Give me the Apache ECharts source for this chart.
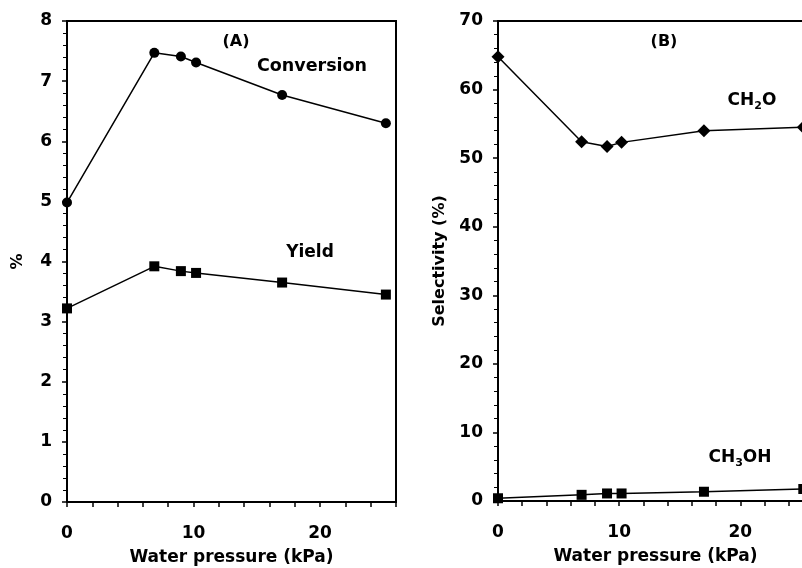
<!DOCTYPE html>
<html><head><meta charset="utf-8">
<script src="https://cdn.jsdelivr.net/npm/echarts@6/dist/echarts.min.js"></script>
<style>html,body{margin:0;padding:0;background:#fff}#c{width:802px;height:568px}</style>
</head><body><div id="c"></div>
<script>
const pressure = [0, 6.9, 9, 10.2, 17, 25.2];
const conversion = [4.98, 7.47, 7.41, 7.31, 6.77, 6.30];
const yieldVals = [3.22, 3.92, 3.84, 3.81, 3.65, 3.45];
const selCH2O = [64.8, 52.4, 51.7, 52.3, 54.0, 54.5];
const selCH3OH = [0.4, 0.9, 1.1, 1.1, 1.35, 1.75];
const xTicksLabeled = [0, 10, 20];

const FONT = '"DejaVu Sans", Verdana, sans-serif';
const pair = (xs, ys) => xs.map((x, i) => [x, ys[i]]);

const chart = echarts.init(document.getElementById('c'), null, {renderer: 'canvas'});

function xAxis(gi) {
  return {
    type: 'value', gridIndex: gi, min: 0, max: 26, interval: 2,
    name: 'Water pressure (kPa)', nameLocation: 'middle', nameGap: 47,
    nameTextStyle: {fontFamily: FONT, fontWeight: 'bold', fontSize: 17, color: '#000'},
    axisLine: {show: true, onZero: false, lineStyle: {color: '#000', width: 2}},
    axisTick: {show: true, inside: false, length: 5, lineStyle: {color: '#000', width: 1.5}},
    axisLabel: {margin: 23, fontFamily: FONT, fontWeight: 'bold', fontSize: 17, color: '#000',
      formatter: v => xTicksLabeled.includes(v) ? String(v) : ''},
    splitLine: {show: false}
  };
}
function yAxis(gi, max, interval, name, gap) {
  return {
    type: 'value', gridIndex: gi, min: 0, max: max, interval: interval,
    name: name, nameLocation: 'middle', nameGap: gap,
    nameTextStyle: {fontFamily: FONT, fontWeight: 'bold', fontSize: 16, color: '#000'},
    axisLine: {show: true, lineStyle: {color: '#000', width: 2}},
    axisTick: {show: true, inside: false, length: 5, lineStyle: {color: '#000', width: 1.5}},
    minorTick: {show: true, splitNumber: 5, length: 4, lineStyle: {color: '#000', width: 1}},
    axisLabel: {margin: 15, fontFamily: FONT, fontWeight: 'bold', fontSize: 17, color: '#000'},
    splitLine: {show: false}, minorSplitLine: {show: false}
  };
}
function line(name, xi, yi, data, symbol, size) {
  return {
    name: name, type: 'line', xAxisIndex: xi, yAxisIndex: yi, data: data,
    symbol: symbol, symbolSize: size, showSymbol: true,
    lineStyle: {color: '#000', width: 1.5},
    itemStyle: {color: '#000', borderWidth: 0},
    animation: false, clip: false
  };
}
const diamond = 'path://M0,-1L1,0L0,1L-1,0Z';
const txt = (x, y, s, size) => ({type: 'text', x: x, y: y, style: {text: s, font: 'bold ' + size + 'px ' + FONT, fill: '#000', align: 'center', verticalAlign: 'middle'}});
const subTxt = (x, y, a, sub, b) => ({type: 'text', x: x, y: y, style: {
  text: '{a|' + a + '}{s|' + sub + '}{a|' + b + '}', align: 'center', verticalAlign: 'middle',
  rich: {a: {font: 'bold 17px ' + FONT, fill: '#000'}, s: {font: 'bold 11px ' + FONT, fill: '#000', padding: [11, 0, 0, 0]}}}});

chart.setOption({
  backgroundColor: '#fff',
  animation: false,
  grid: [
    {left: 67, top: 21, width: 329, height: 481, outerBoundsMode: 'none', show: true, borderColor: '#000', borderWidth: 2, backgroundColor: 'transparent'},
    {left: 498, top: 21, width: 315, height: 480, outerBoundsMode: 'none', show: true, borderColor: '#000', borderWidth: 2, backgroundColor: 'transparent'}
  ],
  xAxis: [xAxis(0), xAxis(1)],
  yAxis: [yAxis(0, 8, 1, '%', 41), yAxis(1, 70, 10, 'Selectivity (%)', 50)],
  series: [
    line('Conversion', 0, 0, pair(pressure, conversion), 'circle', 10),
    line('Yield', 0, 0, pair(pressure, yieldVals), 'rect', 10),
    line('CH2O', 1, 1, pair(pressure, selCH2O), diamond, 13),
    line('CH3OH', 1, 1, pair(pressure, selCH3OH), 'rect', 10)
  ],
  graphic: [
    txt(236, 42, '(A)', 16),
    txt(312, 66, 'Conversion', 17.5),
    txt(310, 253, 'Yield', 17),
    txt(664, 42, '(B)', 16),
    subTxt(752, 101, 'CH', '2', 'O'),
    subTxt(740, 458, 'CH', '3', 'OH')
  ]
});
</script></body></html>
